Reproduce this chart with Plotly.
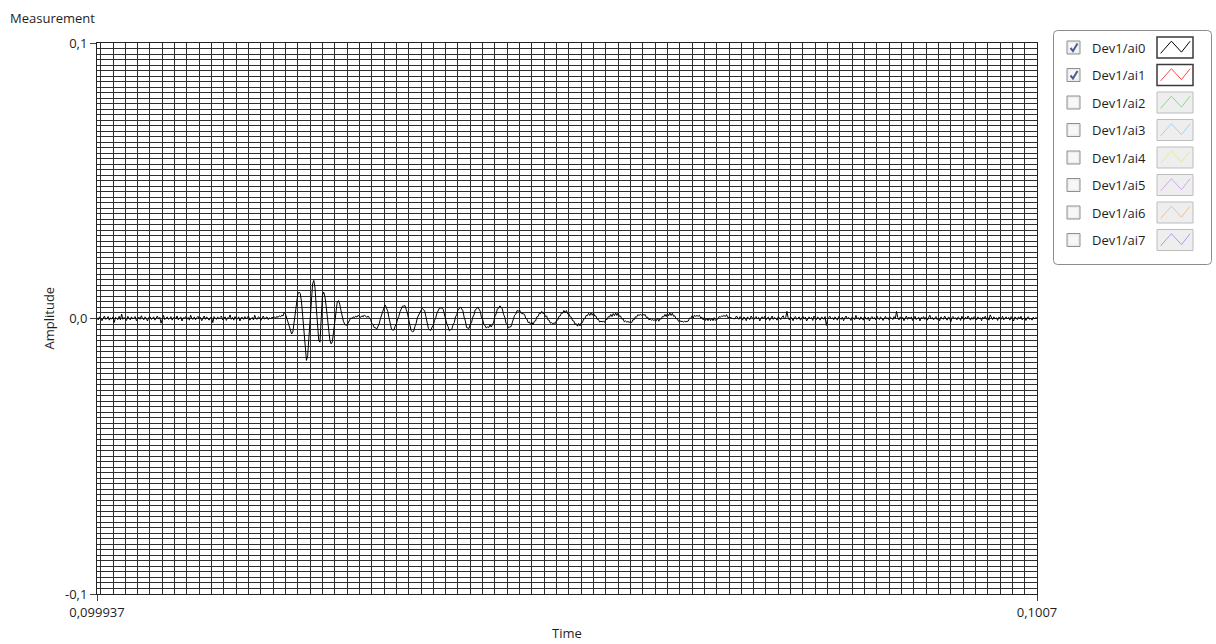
import numpy as np
import plotly.graph_objects as go

# ---------------- data ----------------
T0 = 0.099937          # first sample time (s)
T_END = 0.1007         # last time on axis (s)
DT = 1e-6              # sample spacing (s)

# Dev1/ai0 amplitude, in mV
ai0_mV = [
    0.3, -0.5, 0.6, 0.1, -0.8, 0.4, 0.9, -0.3, 0.0, 0.7, -0.6, 0.2, -0.2, 0.6, -1.4, 0.4, 0.1, -0.4, 0.8, -0.5,
    1.6, -0.3, 0.4, 0.0, -0.7, 0.8, 0.2, -0.5, 0.6, -0.2, 0.3, 0.7, -0.8, 0.1, 0.5, -0.3, 1.0, 0.0, -0.5, 0.6,
    0.1, -0.9, 0.4, 0.7, -0.3, 0.0, 0.6, -0.6, 0.2, 0.9, -0.2, 0.4, -1.7, 0.3, 1.1, -0.4, 0.1, 0.6, -0.3, 0.0,
    0.7, -0.6, 0.3, 0.5, -0.2, 0.9, -0.5, 0.0, 0.6, -0.9, 0.3, 0.1, 0.7, -0.3, 0.4, -0.6, 1.2, 0.0, -0.3, 0.6,
    -0.5, 0.3, 0.8, -0.2, 0.4, -0.8, 0.1, 0.9, -0.3, 0.6, 0.0, -0.6, 0.4, 0.3, -1.5, 0.7, 0.1, -0.3, 0.6, -0.2,
    0.4, 0.9, -0.5, 0.0, 0.6, -0.7, 0.3, 0.1, 1.3, -0.3, 0.4, -0.6, 0.7, 0.0, -0.2, 0.6, -0.9, 0.3, 0.4, -0.3,
    0.7, -0.2, 0.3, 0.9, -0.6, 0.1, 0.4, -0.5, 1.2, 0.0, -0.3, 0.6, 0.3, -0.7, 0.4, 0.9, -0.2, 0.3, 0.6, -0.4,
    0.3, -0.2, 0.5, 0.2, 0.6, 0.1, 0.8, 0.4, 1.0, 0.6, 1.2, 0.9, 2.3, 1.6, 0.2, -1.8, -3.4, -4.6, -5.6, -4.8,
    -1.5, 2.8, 6.5, 8.9, 9.6, 9.1, 6.0, 0.5, -6.5, -12.0, -15.2, -13.5, -7.0, 1.5, 8.5, 12.6, 13.8, 11.0, 4.0, -3.5,
    -8.0, -8.6, -1.0, 8.5, 9.6, 8.0, 4.5, 0.0, -4.5, -7.8, -9.2, -8.5, -5.0, -0.5, 3.5, 6.0, 6.5, 5.2, 3.0, 0.8,
    -1.0, -2.0, -2.5, -2.3, -1.5, -0.6, 0.2, 0.0, 0.6, 0.3, 0.9, 0.5, 1.2, 0.7, 0.4, 1.0, 0.6, 1.3, 0.8, 0.4,
    0.9, 0.1, -0.3, -1.7, -2.2, -3.3, -3.3, -3.9, -2.8, -2.0, -0.1, 1.3, 3.2, 4.0, 4.9, 3.8, 2.6, 0.3, -1.6, -3.8,
    -4.2, -4.2, -2.8, -2.0, -0.2, 0.8, 2.5, 3.3, 4.5, 4.5, 4.7, 3.2, 2.0, -0.4, -2.2, -4.4, -4.8, -4.7, -3.0, -1.8,
    0.2, 1.1, 2.6, 3.0, 3.7, 3.2, 2.7, 0.6, -1.3, -3.6, -4.2, -4.3, -3.1, -2.4, -0.7, 0.3, 2.0, 2.7, 3.8, 3.8,
    3.8, 3.3, 1.4, 0.3, -2.1, -3.0, -4.5, -4.1, -3.9, -2.3, -1.5, 0.6, 1.4, 3.2, 3.5, 4.2, 3.3, 2.8, 0.5, -0.9,
    -3.3, -3.5, -3.6, -2.1, -1.5, 0.5, 1.3, 3.2, 3.4, 4.2, 3.3, 2.7, 0.6, -0.3, -2.2, -2.5, -3.5, -3.0, -3.3, -2.3,
    -3.1, -1.9, -1.3, 0.9, 1.7, 3.5, 3.7, 4.6, 3.8, 3.5, 1.5, 0.5, -1.7, -2.3, -3.5, -3.0, -3.0, -1.3, -0.6, 1.2,
    1.6, 2.9, 2.6, 3.1, 2.0, 1.8, 1.7, 1.5, 0.1, -0.2, -1.5, -1.3, -2.2, -1.4, -2.2, -1.0, -0.9, 0.6, 0.7, 1.9,
    1.7, 2.6, 1.8, 2.0, 0.7, 0.9, -0.5, -0.6, -1.7, -1.5, -1.9, -1.6, -1.8, -0.7, -0.6, 0.8, 0.9, 2.1, 1.9, 2.9,
    2.1, 2.9, 1.7, 1.8, 0.6, 0.5, -0.8, -0.9, -2.1, -1.9, -2.8, -1.8, -2.7, -1.6, -1.5, -0.2, -0.1, 1.1, 1.0, 1.9,
    1.1, 2.0, 1.2, 2.0, 0.9, 0.9, -0.3, -0.3, -1.3, -1.0, -1.2, -1.0, -1.4, -0.3, -0.4, 0.7, 0.5, 1.5, 0.7, 1.8,
    1.0, 2.0, 1.1, 2.0, 0.8, 0.9, -0.2, -0.1, -1.2, -0.9, -1.3, -1.1, -1.4, -1.1, -1.5, -0.4, -0.5, 0.6, 0.5, 1.4,
    1.1, 1.5, 1.2, 1.6, 1.2, 1.4, 0.3, 0.5, -0.5, -0.2, -0.6, -0.4, -0.7, -0.4, -0.8, 0.1, -1.0, -0.1, -0.2, 0.8,
    0.6, 1.5, 0.7, 1.8, 1.0, 2.0, 1.1, 1.9, 0.8, 1.0, -0.1, 0.0, -1.0, -0.7, -1.1, -1.0, -1.3, -1.0, -1.2, -0.9,
    -0.9, 0.2, 0.0, 1.0, 0.2, 1.2, 0.8, 1.1, 0.8, 1.2, 0.2, 0.5, -0.5, 0.4, -0.7, 0.1, -0.8, 0.2, -0.8, 0.1,
    -0.8, 0.3, -0.7, -0.2, -0.2, 0.7, 0.5, 0.9, 0.8, 1.1, 0.7, 1.4, 0.3, 0.5, 0.2, 0.2, 0.0, 0.0, -0.1, 0.9,
    0.4, -0.3, 0.7, 0.1, -0.6, 0.5, 0.2, -0.8, 0.6, 0.0, -0.4, 0.9, 0.3, -0.5, 0.2, 0.7, -0.2, 0.4, -0.9, 0.3,
    0.6, -0.1, 0.8, -0.5, 0.2, 0.5, -0.7, 0.1, 0.9, -0.3, 0.4, 0.0, -0.6, 0.7, 0.2, -0.4, 0.5, 1.0, -0.2, 0.3,
    2.6, 0.2, -0.5, 0.6, 0.1, -0.8, 0.4, 0.7, -0.3, 0.0, 0.6, -0.6, 0.3, 0.8, -0.2, 0.5, -0.9, 0.2, 0.6, -0.1,
    0.4, -0.7, 0.9, 0.2, -0.4, 0.6, 0.0, -0.6, 0.5, 0.3, -0.3, 0.7, -2.5, -0.4, 0.4, 0.8, -0.2, 0.3, -0.5, 0.6,
    0.1, -0.6, 0.7, 0.3, -0.3, 0.5, -0.8, 0.2, 0.9, -0.2, 0.4, 0.0, -0.7, 0.6, 0.2, -0.4, 1.1, -0.1, 0.3, -0.5,
    0.6, 0.0, -0.6, 0.8, 0.3, -0.3, 0.5, -0.9, 0.2, 0.7, -0.2, 0.4, -0.5, 0.9, 0.1, -0.4, 0.6, 0.2, -0.7, 0.4,
    0.8, -0.2, 0.3, -0.6, 0.5, 0.1, -0.4, 0.7, 0.0, 2.6, 0.3, -0.5, 0.6, -0.2, 0.4, -0.8, 0.2, 0.9, -0.3, 0.5,
    -0.1, 0.6, -0.7, 0.3, 0.8, -0.4, 0.2, 0.5, -0.9, 0.4, 0.0, 0.7, -0.3, 0.5, -0.6, 0.2, 1.2, -0.2, 0.4, -0.5,
    0.3, 0.7, -0.4, 0.1, -0.8, 0.6, 0.2, -0.3, 0.9, 0.0, -0.6, 0.5, 0.3, -1.3, 0.4, 0.7, -0.2, 0.3, -0.5, 0.6,
    0.2, -0.7, 0.8, 0.0, -0.4, 0.5, -0.2, 0.9, 0.1, -0.6, 0.4, -0.3, 0.7, 0.2, -0.5, 0.6, -0.1, 0.3, -0.8, 0.5,
    0.0, 0.8, -0.3, 0.4, -0.6, 1.3, 0.1, -0.4, 0.6, -0.2, 0.3, -0.7, 0.5, 0.2, -0.3, 0.8, -0.5, 0.1, 0.6, -0.2,
    0.4, -0.6, 0.7, 0.0, -0.9, 0.5, 0.3, -0.4, 0.6, -0.1, 0.8, -0.5, 0.2, 0.4, -0.7, 0.3, 0.6, -0.3, 0.1, -0.6,
    0.5, -0.2, 0.4, 0.1,
]

y_tickvals = [-0.1, 0.0, 0.1]
y_ticktext = ["-0,1", "0,0", "0,1"]
x_tickvals = [T0, T_END]
x_ticktext = ["0,099937", "0,1007"]
Y_RANGE = [-0.1, 0.1]
Y_GRID_STEP = 0.002
X_GRID_STEP = 0.00001
X_GRID_START = 0.09994

channels = ["Dev1/ai0", "Dev1/ai1", "Dev1/ai2", "Dev1/ai3",
            "Dev1/ai4", "Dev1/ai5", "Dev1/ai6", "Dev1/ai7"]
channel_colors = ["#000000", "#ff4a4a", "#7fe07f", "#9fd4f2",
                  "#dfeaa0", "#d3a4f2", "#f4c27f", "#9ea2f2"]
channel_checked = [True, True, False, False, False, False, False, False]

# ---------------- geometry ----------------
W, H = 1216, 644
PL, PR, PT, PB = 97, 1037, 43, 594          # plot area in px
LG_L, LG_R, LG_T, LG_B = 1053, 1212, 30, 265  # legend box in px
FONT = "Open Sans"
TXT = "#1e1e1e"
GRID = "#2e2e2e"

t = T0 + np.arange(len(ai0_mV)) * DT
amp = np.array(ai0_mV) / 1000.0

fig = go.Figure()
fig.add_trace(go.Scatter(x=t, y=amp, mode="lines",
                         line=dict(color=channel_colors[0], width=1),
                         hoverinfo="skip", showlegend=False))

# ---------------- custom legend (own axes in px units) ----------------
lw = LG_R - LG_L
lh = LG_B - LG_T
shapes = []
annotations = []

r = 4
x0, y0, x1, y1 = 0.5, 0.5, lw - 0.5, lh - 0.5
shapes.append(dict(
    type="path", xref="x2", yref="y2", layer="below",
    path=(f"M{x0+r},{y0} L{x1-r},{y0} Q{x1},{y0} {x1},{y0+r} "
          f"L{x1},{y1-r} Q{x1},{y1} {x1-r},{y1} L{x0+r},{y1} "
          f"Q{x0},{y1} {x0},{y1-r} L{x0},{y0+r} Q{x0},{y0} {x0+r},{y0} Z"),
    line=dict(color="#8c8c8c", width=1), fillcolor="white"))

ROW0, ROWSTEP = 17.5, 27.5
CB_X0, CB_SIZE = 14, 13
LBL_X = 37
SW_X0, SW_X1, SW_H = 104, 140, 21
ZIG_FX = [0.1, 0.4, 0.68, 0.92]
ZIG_FY = [0.78, 0.2, 0.72, 0.2]

for k, (name, col, chk) in enumerate(zip(channels, channel_colors, channel_checked)):
    c = ROW0 + ROWSTEP * k
    # checkbox
    shapes.append(dict(type="rect", xref="x2", yref="y2", layer="below",
                       x0=CB_X0, x1=CB_X0 + CB_SIZE, y0=c - CB_SIZE / 2, y1=c + CB_SIZE / 2,
                       line=dict(color="#8e8f8f", width=1), fillcolor="#ececec"))
    shapes.append(dict(type="rect", xref="x2", yref="y2", layer="below",
                       x0=CB_X0 + 2, x1=CB_X0 + CB_SIZE - 2, y0=c - CB_SIZE / 2 + 2, y1=c + CB_SIZE / 2 - 2,
                       line=dict(width=0), fillcolor="#f7f7f7"))
    if chk:
        fig.add_trace(go.Scatter(
            x=[CB_X0 + 3.5, CB_X0 + 6, CB_X0 + 10.5],
            y=[c + 0.5, c + 3.5, c - 4],
            xaxis="x2", yaxis="y2", mode="lines",
            line=dict(color="#4b5d90", width=2), hoverinfo="skip", showlegend=False))
    # label
    annotations.append(dict(text=name, xref="x2", yref="y2", x=LBL_X, y=c,
                            xanchor="left", yanchor="middle", showarrow=False,
                            font=dict(family=FONT, size=13, color=TXT)))
    # swatch
    shapes.append(dict(type="rect", xref="x2", yref="y2", layer="below",
                       x0=SW_X0, x1=SW_X1, y0=c - SW_H / 2, y1=c + SW_H / 2,
                       line=dict(color="#3a3a3a" if chk else "#bdbdbd", width=1.5 if chk else 1),
                       fillcolor="white" if chk else "#eeeeee"))
    fig.add_trace(go.Scatter(
        x=[SW_X0 + f * (SW_X1 - SW_X0) for f in ZIG_FX],
        y=[c - SW_H / 2 + f * SW_H for f in ZIG_FY],
        xaxis="x2", yaxis="y2", mode="lines",
        line=dict(color=col, width=1), hoverinfo="skip", showlegend=False))

# ---------------- texts ----------------
annotations.append(dict(text="Measurement", xref="paper", yref="paper",
                        x=8 / W, y=1 - 18 / H, xanchor="left", yanchor="middle",
                        showarrow=False, font=dict(family=FONT, size=13, color=TXT)))
annotations.append(dict(text="Time", xref="paper", yref="paper",
                        x=(PL + PR) / 2 / W, y=1 - 633 / H, xanchor="center", yanchor="middle",
                        showarrow=False, font=dict(family=FONT, size=13, color=TXT)))
annotations.append(dict(text="Amplitude", xref="paper", yref="paper", textangle=-90,
                        x=48 / W, y=1 - ((PT + PB) / 2) / H, xanchor="center", yanchor="middle",
                        showarrow=False, font=dict(family=FONT, size=13, color=TXT)))

fig.update_layout(
    width=W, height=H,
    margin=dict(l=0, r=0, t=0, b=0, pad=0, autoexpand=False),
    paper_bgcolor="white", plot_bgcolor="white",
    showlegend=False,
    font=dict(family=FONT, size=13, color=TXT),
    shapes=shapes, annotations=annotations,
    xaxis=dict(
        domain=[PL / W, PR / W], range=[T0, T_END], anchor="y",
        tickmode="array", tickvals=x_tickvals, ticktext=x_ticktext,
        ticks="outside", ticklen=6, tickcolor="#444", tickwidth=1,
        showgrid=True, gridcolor=GRID, gridwidth=1,
        minor=dict(tick0=X_GRID_START, dtick=X_GRID_STEP, showgrid=True,
                   gridcolor=GRID, gridwidth=1, ticks=""),
        showline=True, linecolor="#222", linewidth=1, mirror=True,
        zeroline=False, fixedrange=True, automargin=False,
        tickfont=dict(family=FONT, size=13, color=TXT),
    ),
    yaxis=dict(
        domain=[1 - PB / H, 1 - PT / H], range=Y_RANGE, anchor="x",
        tickmode="array", tickvals=y_tickvals, ticktext=y_ticktext,
        ticks="outside", ticklen=6, tickcolor="#444", tickwidth=1,
        showgrid=True, gridcolor=GRID, gridwidth=1,
        minor=dict(tick0=0, dtick=Y_GRID_STEP, showgrid=True,
                   gridcolor=GRID, gridwidth=1, ticks=""),
        showline=True, linecolor="#222", linewidth=1, mirror=True,
        zeroline=False, fixedrange=True, automargin=False,
        tickfont=dict(family=FONT, size=13, color=TXT),
    ),
    xaxis2=dict(domain=[LG_L / W, LG_R / W], range=[0, lw], anchor="y2",
                visible=False, fixedrange=True, automargin=False),
    yaxis2=dict(domain=[1 - LG_B / H, 1 - LG_T / H], range=[lh, 0], anchor="x2",
                visible=False, fixedrange=True, automargin=False),
)

fig.write_html("out.html")
